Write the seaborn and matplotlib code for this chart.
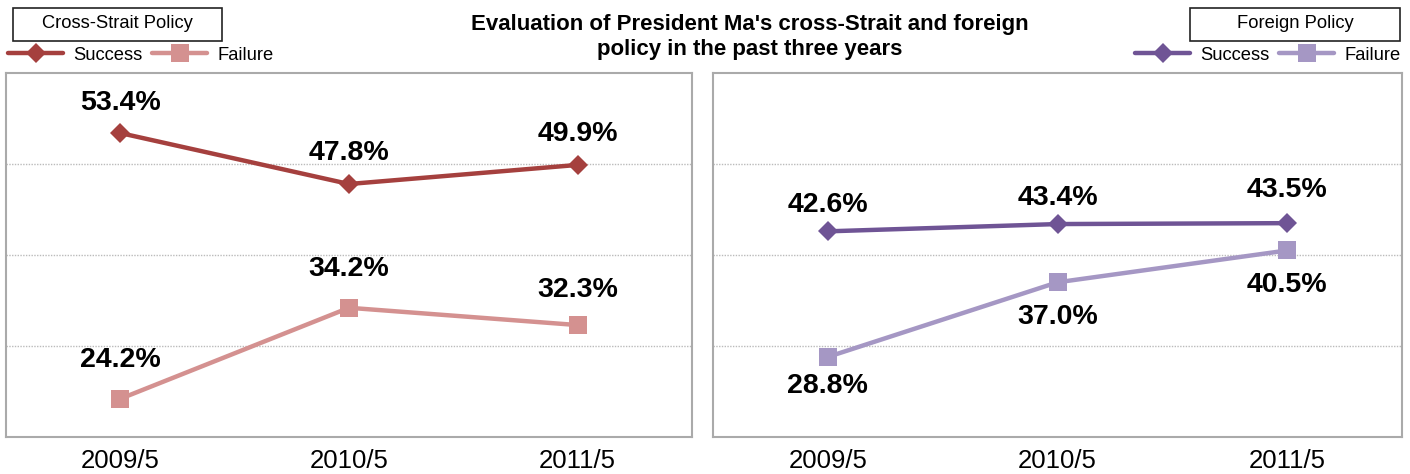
import numpy as np
import pandas as pd
import seaborn as sns
import matplotlib.pyplot as plt
from matplotlib.lines import Line2D
from matplotlib.patches import Rectangle

sns.set_style("white")
plt.rcParams['font.family'] = ['Liberation Sans', 'DejaVu Sans']
plt.rcParams['text.color'] = 'black'
plt.rcParams['xtick.color'] = 'black'

# data
years = ["2009/5", "2010/5", "2011/5"]
cross_success = [53.4, 47.8, 49.9]
cross_failure = [24.2, 34.2, 32.3]
foreign_success = [42.6, 43.4, 43.5]
foreign_failure = [28.8, 37.0, 40.5]

title = "Evaluation of President Ma's cross-Strait and foreign\npolicy in the past three years"

fig = plt.figure(figsize=(14.1, 4.74), dpi=100)
ax1 = fig.add_axes([6 / 1410, 37 / 474, 686 / 1410, 364 / 474])
ax2 = fig.add_axes([713 / 1410, 37 / 474, 689 / 1410, 364 / 474])


def draw_panel(ax, success, failure, c_succ, c_fail, off_succ, off_fail):
    df = pd.DataFrame({"year": years * 2,
                       "value": success + failure,
                       "kind": ["Success"] * 3 + ["Failure"] * 3})
    sns.lineplot(data=df[df.kind == "Success"], x="year", y="value", ax=ax,
                 color=c_succ, lw=3.2, marker="D", markersize=10,
                 markeredgewidth=0, sort=False)
    sns.lineplot(data=df[df.kind == "Failure"], x="year", y="value", ax=ax,
                 color=c_fail, lw=3.2, marker="s", markersize=13,
                 markeredgewidth=0, sort=False)
    for i, v in enumerate(success):
        ax.annotate(f"{v:.1f}%", (i, v), xytext=(0, off_succ[i]), textcoords="offset points",
                    ha="center", va="center", fontsize=20.5, fontweight="bold", color="black")
    for i, v in enumerate(failure):
        ax.annotate(f"{v:.1f}%", (i, v), xytext=(0, off_fail[i]), textcoords="offset points",
                    ha="center", va="center", fontsize=20.5, fontweight="bold", color="black")
    ax.set_xlim(-0.5, 2.5)
    ax.set_ylim(20, 60)
    ax.set_yticks([30, 40, 50])
    ax.set_yticklabels([])
    ax.tick_params(axis="y", length=0)
    ax.yaxis.grid(True, ls=(0, (1, 1)), color="#BBBBBB", lw=1)
    ax.xaxis.grid(False)
    ax.set_xticks([0, 1, 2])
    ax.set_xticks([0.5, 1.5], minor=True)
    ax.tick_params(axis="x", which="major", length=0, labelsize=18.5, pad=9,
                   labelcolor="black")
    ax.tick_params(axis="x", which="minor", direction="in", length=7, color="#999999", width=1)
    ax.set_xlabel("")
    ax.set_ylabel("")
    for s in ax.spines.values():
        s.set_color("#AAAAAA")
        s.set_linewidth(1.5)


draw_panel(ax1, cross_success, cross_failure, "#A5403E", "#D49190",
           [22, 22, 22], [28, 28, 25])
draw_panel(ax2, foreign_success, foreign_failure, "#6F5495", "#A597C4",
           [19, 19, 24], [-21, -25, -25])

fig.text(0.532, 1 - 37 / 474, title, ha="center", va="center", fontsize=16,
         fontweight="bold", linespacing=1.3)


def legend_box(x0, x1, label, c_succ, c_fail, lx):
    fig.patches.append(Rectangle((x0 / 1410, 1 - 41 / 474), (x1 - x0) / 1410, 33 / 474,
                                 transform=fig.transFigure, fill=False, ec="#222222", lw=1.2))
    fig.text((x0 + x1) / 2 / 1410, 1 - 24 / 474, label, ha="center", va="center", fontsize=13.2)
    handles = [Line2D([], [], color=c_succ, lw=3.2, marker="D", markersize=10, markeredgewidth=0),
               Line2D([], [], color=c_fail, lw=3.2, marker="s", markersize=13, markeredgewidth=0)]
    fig.legend(handles, ["Success", "Failure"], loc="center left",
               bbox_to_anchor=(lx / 1410, 1 - 55 / 474), ncol=2, frameon=False,
               fontsize=13.2, handlelength=3.0, handletextpad=0.55, columnspacing=0.55,
               borderaxespad=0, borderpad=0)


legend_box(13, 222, "Cross-Strait Policy", "#A5403E", "#D49190", 8)
legend_box(1190, 1400, "Foreign Policy", "#6F5495", "#A597C4", 1135)

fig.savefig("out.png", dpi=100)
